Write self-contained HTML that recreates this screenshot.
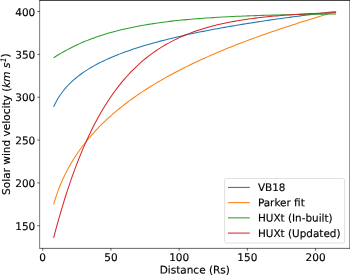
<!DOCTYPE html>
<html><head><meta charset="utf-8"><title>Solar wind velocity</title>
<style>
html,body{margin:0;padding:0;background:#fff;}
svg{display:block;}
text{font-family:"DejaVu Sans","Liberation Sans",sans-serif;font-size:10.5px;fill:#000;stroke:#000;stroke-width:0.15px;}
.it{font-style:oblique;}
</style></head>
<body>
<svg width="350" height="275" viewBox="0 0 350 275">
<rect x="0" y="0" width="350" height="275" fill="#fff"/>
<g fill="none" stroke-width="1.05" stroke-linejoin="round" stroke-linecap="butt">
<path stroke="#1f77b4" d="M53.62 106.82 L55.99 101.96 L58.36 97.82 L60.74 94.21 L63.11 91.01 L65.48 88.12 L67.86 85.50 L70.23 83.09 L72.60 80.86 L74.98 78.78 L77.35 76.84 L79.72 75.01 L82.10 73.29 L84.47 71.66 L86.85 70.11 L89.22 68.63 L91.59 67.22 L93.97 65.87 L96.34 64.57 L98.71 63.33 L101.09 62.13 L103.46 60.98 L105.83 59.86 L108.21 58.78 L110.58 57.74 L112.95 56.73 L115.33 55.75 L117.70 54.80 L120.08 53.87 L122.45 52.97 L124.82 52.10 L127.20 51.24 L129.57 50.41 L131.94 49.60 L134.32 48.81 L136.69 48.03 L139.06 47.27 L141.44 46.53 L143.81 45.81 L146.18 45.10 L148.56 44.41 L150.93 43.72 L153.30 43.06 L155.68 42.40 L158.05 41.76 L160.43 41.13 L162.80 40.51 L165.17 39.90 L167.55 39.30 L169.92 38.71 L172.29 38.14 L174.67 37.57 L177.04 37.01 L179.41 36.46 L181.79 35.92 L184.16 35.38 L186.53 34.86 L188.91 34.34 L191.28 33.83 L193.65 33.32 L196.03 32.83 L198.40 32.34 L200.78 31.86 L203.15 31.38 L205.52 30.91 L207.90 30.45 L210.27 29.99 L212.64 29.54 L215.02 29.09 L217.39 28.65 L219.76 28.21 L222.14 27.78 L224.51 27.36 L226.88 26.94 L229.26 26.52 L231.63 26.11 L234.01 25.71 L236.38 25.31 L238.75 24.91 L241.13 24.52 L243.50 24.13 L245.87 23.74 L248.25 23.36 L250.62 22.99 L252.99 22.61 L255.37 22.25 L257.74 21.88 L260.11 21.52 L262.49 21.16 L264.86 20.81 L267.23 20.46 L269.61 20.11 L271.98 19.76 L274.36 19.42 L276.73 19.08 L279.10 18.75 L281.48 18.42 L283.85 18.09 L286.22 17.76 L288.60 17.44 L290.97 17.12 L293.34 16.80 L295.72 16.49 L298.09 16.17 L300.46 15.86 L302.84 15.56 L305.21 15.25 L307.58 14.95 L309.96 14.65 L312.33 14.35 L314.71 14.06 L317.08 13.76 L319.45 13.47 L321.83 13.18 L324.20 12.90 L326.57 12.61 L328.95 12.33 L331.32 12.05 L333.69 11.78 L336.07 11.50"/>
<path stroke="#ff7f0e" d="M53.62 204.45 L55.99 196.64 L58.36 189.90 L60.74 183.94 L63.11 178.56 L65.48 173.63 L67.86 169.06 L70.23 164.81 L72.60 160.81 L74.98 157.03 L77.35 153.46 L79.72 150.05 L82.10 146.80 L84.47 143.70 L86.85 140.72 L89.22 137.85 L91.59 135.09 L93.97 132.44 L96.34 129.87 L98.71 127.38 L101.09 124.98 L103.46 122.64 L105.83 120.38 L108.21 118.18 L110.58 116.03 L112.95 113.95 L115.33 111.92 L117.70 109.94 L120.08 108.00 L122.45 106.11 L124.82 104.27 L127.20 102.46 L129.57 100.70 L131.94 98.97 L134.32 97.28 L136.69 95.62 L139.06 93.99 L141.44 92.39 L143.81 90.83 L146.18 89.29 L148.56 87.78 L150.93 86.29 L153.30 84.84 L155.68 83.40 L158.05 81.99 L160.43 80.60 L162.80 79.24 L165.17 77.89 L167.55 76.57 L169.92 75.26 L172.29 73.98 L174.67 72.71 L177.04 71.46 L179.41 70.23 L181.79 69.01 L184.16 67.82 L186.53 66.63 L188.91 65.47 L191.28 64.31 L193.65 63.18 L196.03 62.05 L198.40 60.94 L200.78 59.84 L203.15 58.76 L205.52 57.69 L207.90 56.63 L210.27 55.58 L212.64 54.55 L215.02 53.53 L217.39 52.51 L219.76 51.51 L222.14 50.52 L224.51 49.54 L226.88 48.57 L229.26 47.61 L231.63 46.65 L234.01 45.71 L236.38 44.78 L238.75 43.86 L241.13 42.94 L243.50 42.03 L245.87 41.13 L248.25 40.24 L250.62 39.36 L252.99 38.49 L255.37 37.62 L257.74 36.76 L260.11 35.91 L262.49 35.06 L264.86 34.22 L267.23 33.39 L269.61 32.57 L271.98 31.75 L274.36 30.93 L276.73 30.13 L279.10 29.33 L281.48 28.53 L283.85 27.74 L286.22 26.96 L288.60 26.18 L290.97 25.41 L293.34 24.64 L295.72 23.88 L298.09 23.12 L300.46 22.37 L302.84 21.62 L305.21 20.88 L307.58 20.14 L309.96 19.41 L312.33 18.68 L314.71 17.95 L317.08 17.23 L319.45 16.51 L321.83 15.80 L324.20 15.09 L326.57 14.38 L328.95 13.67 L331.32 12.97 L333.69 12.27 L336.07 11.58"/>
<path stroke="#2ca02c" d="M53.62 57.78 L55.99 56.26 L58.36 54.79 L60.74 53.37 L63.11 52.00 L65.48 50.68 L67.86 49.40 L70.23 48.16 L72.60 46.97 L74.98 45.82 L77.35 44.71 L79.72 43.64 L82.10 42.60 L84.47 41.60 L86.85 40.63 L89.22 39.69 L91.59 38.79 L93.97 37.92 L96.34 37.08 L98.71 36.27 L101.09 35.48 L103.46 34.72 L105.83 33.99 L108.21 33.28 L110.58 32.60 L112.95 31.94 L115.33 31.30 L117.70 30.69 L120.08 30.09 L122.45 29.52 L124.82 28.96 L127.20 28.43 L129.57 27.91 L131.94 27.41 L134.32 26.93 L136.69 26.46 L139.06 26.01 L141.44 25.58 L143.81 25.16 L146.18 24.75 L148.56 24.36 L150.93 23.98 L153.30 23.62 L155.68 23.26 L158.05 22.92 L160.43 22.59 L162.80 22.28 L165.17 21.97 L167.55 21.67 L169.92 21.39 L172.29 21.11 L174.67 20.84 L177.04 20.59 L179.41 20.34 L181.79 20.10 L184.16 19.86 L186.53 19.64 L188.91 19.42 L191.28 19.21 L193.65 19.01 L196.03 18.82 L198.40 18.63 L200.78 18.44 L203.15 18.27 L205.52 18.10 L207.90 17.93 L210.27 17.78 L212.64 17.62 L215.02 17.48 L217.39 17.33 L219.76 17.19 L222.14 17.06 L224.51 16.93 L226.88 16.81 L229.26 16.69 L231.63 16.57 L234.01 16.46 L236.38 16.35 L238.75 16.25 L241.13 16.15 L243.50 16.05 L245.87 15.96 L248.25 15.87 L250.62 15.78 L252.99 15.69 L255.37 15.61 L257.74 15.53 L260.11 15.46 L262.49 15.38 L264.86 15.31 L267.23 15.24 L269.61 15.18 L271.98 15.11 L274.36 15.05 L276.73 14.99 L279.10 14.93 L281.48 14.88 L283.85 14.82 L286.22 14.77 L288.60 14.72 L290.97 14.67 L293.34 14.62 L295.72 14.58 L298.09 14.54 L300.46 14.49 L302.84 14.45 L305.21 14.41 L307.58 14.37 L309.96 14.34 L312.33 14.30 L314.71 14.27 L317.08 14.24 L319.45 14.20 L321.83 14.17 L324.20 14.14 L326.57 14.11 L328.95 14.09 L331.32 14.06 L333.69 14.03 L336.07 14.01"/>
<path stroke="#d62728" d="M53.62 237.89 L55.99 228.93 L58.36 220.32 L60.74 212.06 L63.11 204.12 L65.48 196.50 L67.86 189.17 L70.23 182.13 L72.60 175.37 L74.98 168.88 L77.35 162.65 L79.72 156.65 L82.10 150.90 L84.47 145.37 L86.85 140.06 L89.22 134.96 L91.59 130.06 L93.97 125.36 L96.34 120.84 L98.71 116.49 L101.09 112.32 L103.46 108.31 L105.83 104.47 L108.21 100.77 L110.58 97.22 L112.95 93.81 L115.33 90.53 L117.70 87.38 L120.08 84.36 L122.45 81.45 L124.82 78.66 L127.20 75.98 L129.57 73.41 L131.94 70.94 L134.32 68.56 L136.69 66.28 L139.06 64.09 L141.44 61.98 L143.81 59.96 L146.18 58.02 L148.56 56.15 L150.93 54.36 L153.30 52.63 L155.68 50.98 L158.05 49.39 L160.43 47.87 L162.80 46.40 L165.17 44.99 L167.55 43.64 L169.92 42.34 L172.29 41.09 L174.67 39.89 L177.04 38.74 L179.41 37.63 L181.79 36.57 L184.16 35.55 L186.53 34.57 L188.91 33.63 L191.28 32.72 L193.65 31.86 L196.03 31.02 L198.40 30.22 L200.78 29.45 L203.15 28.71 L205.52 28.00 L207.90 27.31 L210.27 26.66 L212.64 26.03 L215.02 25.42 L217.39 24.84 L219.76 24.28 L222.14 23.75 L224.51 23.23 L226.88 22.74 L229.26 22.26 L231.63 21.81 L234.01 21.37 L236.38 20.95 L238.75 20.54 L241.13 20.15 L243.50 19.78 L245.87 19.42 L248.25 19.08 L250.62 18.74 L252.99 18.43 L255.37 18.12 L257.74 17.83 L260.11 17.55 L262.49 17.27 L264.86 17.01 L267.23 16.76 L269.61 16.52 L271.98 16.29 L274.36 16.07 L276.73 15.86 L279.10 15.66 L281.48 15.46 L283.85 15.27 L286.22 15.09 L288.60 14.92 L290.97 14.75 L293.34 14.59 L295.72 14.43 L298.09 14.29 L300.46 14.14 L302.84 14.01 L305.21 13.88 L307.58 13.75 L309.96 13.63 L312.33 13.51 L314.71 13.40 L317.08 13.29 L319.45 13.19 L321.83 13.09 L324.20 13.00 L326.57 12.91 L328.95 12.82 L331.32 12.73 L333.69 12.65 L336.07 12.57"/>
</g>
<g stroke="#000" stroke-width="0.6" fill="none">
<g fill="#000" stroke="none">
<rect x="39.55" y="0" width="0.52" height="248.52"/>
<rect x="39.45" y="247.92" width="310.55" height="0.60"/>
<rect x="39.45" y="0" width="310.55" height="0.72"/>
<rect x="349.60" y="0" width="0.40" height="248.52"/>
</g>
<line x1="42.70" y1="248.22" x2="42.70" y2="250.72"/>
<line x1="110.93" y1="248.22" x2="110.93" y2="250.72"/>
<line x1="179.15" y1="248.22" x2="179.15" y2="250.72"/>
<line x1="247.38" y1="248.22" x2="247.38" y2="250.72"/>
<line x1="315.60" y1="248.22" x2="315.60" y2="250.72"/>
<line x1="37.25" y1="225.75" x2="39.75" y2="225.75"/>
<line x1="37.25" y1="182.90" x2="39.75" y2="182.90"/>
<line x1="37.25" y1="140.05" x2="39.75" y2="140.05"/>
<line x1="37.25" y1="97.20" x2="39.75" y2="97.20"/>
<line x1="37.25" y1="54.35" x2="39.75" y2="54.35"/>
<line x1="37.25" y1="11.50" x2="39.75" y2="11.50"/>
</g>
<text x="42.70" y="261.00" transform="rotate(0.03 42.70 261.00)" text-anchor="middle">0</text>
<text x="110.93" y="261.00" transform="rotate(0.03 110.93 261.00)" text-anchor="middle">50</text>
<text x="179.15" y="261.00" transform="rotate(0.03 179.15 261.00)" text-anchor="middle">100</text>
<text x="247.38" y="261.00" transform="rotate(0.03 247.38 261.00)" text-anchor="middle">150</text>
<text x="315.60" y="261.00" transform="rotate(0.03 315.60 261.00)" text-anchor="middle">200</text>
<text x="35.30" y="230.00" transform="rotate(0.03 35.30 230.00)" text-anchor="end">150</text>
<text x="35.30" y="187.00" transform="rotate(0.03 35.30 187.00)" text-anchor="end">200</text>
<text x="35.30" y="144.20" transform="rotate(0.03 35.30 144.20)" text-anchor="end">250</text>
<text x="35.30" y="101.00" transform="rotate(0.03 35.30 101.00)" text-anchor="end">300</text>
<text x="35.30" y="58.60" transform="rotate(0.03 35.30 58.60)" text-anchor="end">350</text>
<text x="35.30" y="16.00" transform="rotate(0.03 35.30 16.00)" text-anchor="end">400</text>
<text x="194.80" y="273.60" transform="rotate(0.03 194.80 273.60)" text-anchor="middle">Distance (Rs)</text>
<text transform="translate(9.5 124.15) rotate(-90)" text-anchor="middle" style="font-size:10.55px">Solar wind velocity (<tspan class="it">km s</tspan><tspan class="it" font-size="7.35px" dx="0.25" dy="-3.8">1</tspan><tspan dx="0.1" dy="3.5">)</tspan></text>
<rect x="224.6" y="178.5" width="120.1" height="64.5" rx="2" ry="2" fill="#fff" fill-opacity="0.8" stroke="#cfcfcf" stroke-width="0.65"/>
<line x1="228.0" y1="187.40" x2="249.8" y2="187.40" stroke="#1f77b4" stroke-width="1.05"/>
<text x="257.90" y="190.90" transform="rotate(0.03 257.90 190.90)" style="font-size:10.45px">VB18</text>
<line x1="228.0" y1="202.63" x2="249.8" y2="202.63" stroke="#ff7f0e" stroke-width="1.05"/>
<text x="257.90" y="206.15" transform="rotate(0.03 257.90 206.15)" style="font-size:10.45px">Parker fit</text>
<line x1="228.0" y1="217.86" x2="249.8" y2="217.86" stroke="#2ca02c" stroke-width="1.05"/>
<text x="257.90" y="221.60" transform="rotate(0.03 257.90 221.60)" style="font-size:10.45px">HUXt (In-built)</text>
<line x1="228.0" y1="233.09" x2="249.8" y2="233.09" stroke="#d62728" stroke-width="1.05"/>
<text x="257.90" y="236.90" transform="rotate(0.03 257.90 236.90)" style="font-size:10.45px">HUXt (Updated)</text>
</svg>
</body></html>
